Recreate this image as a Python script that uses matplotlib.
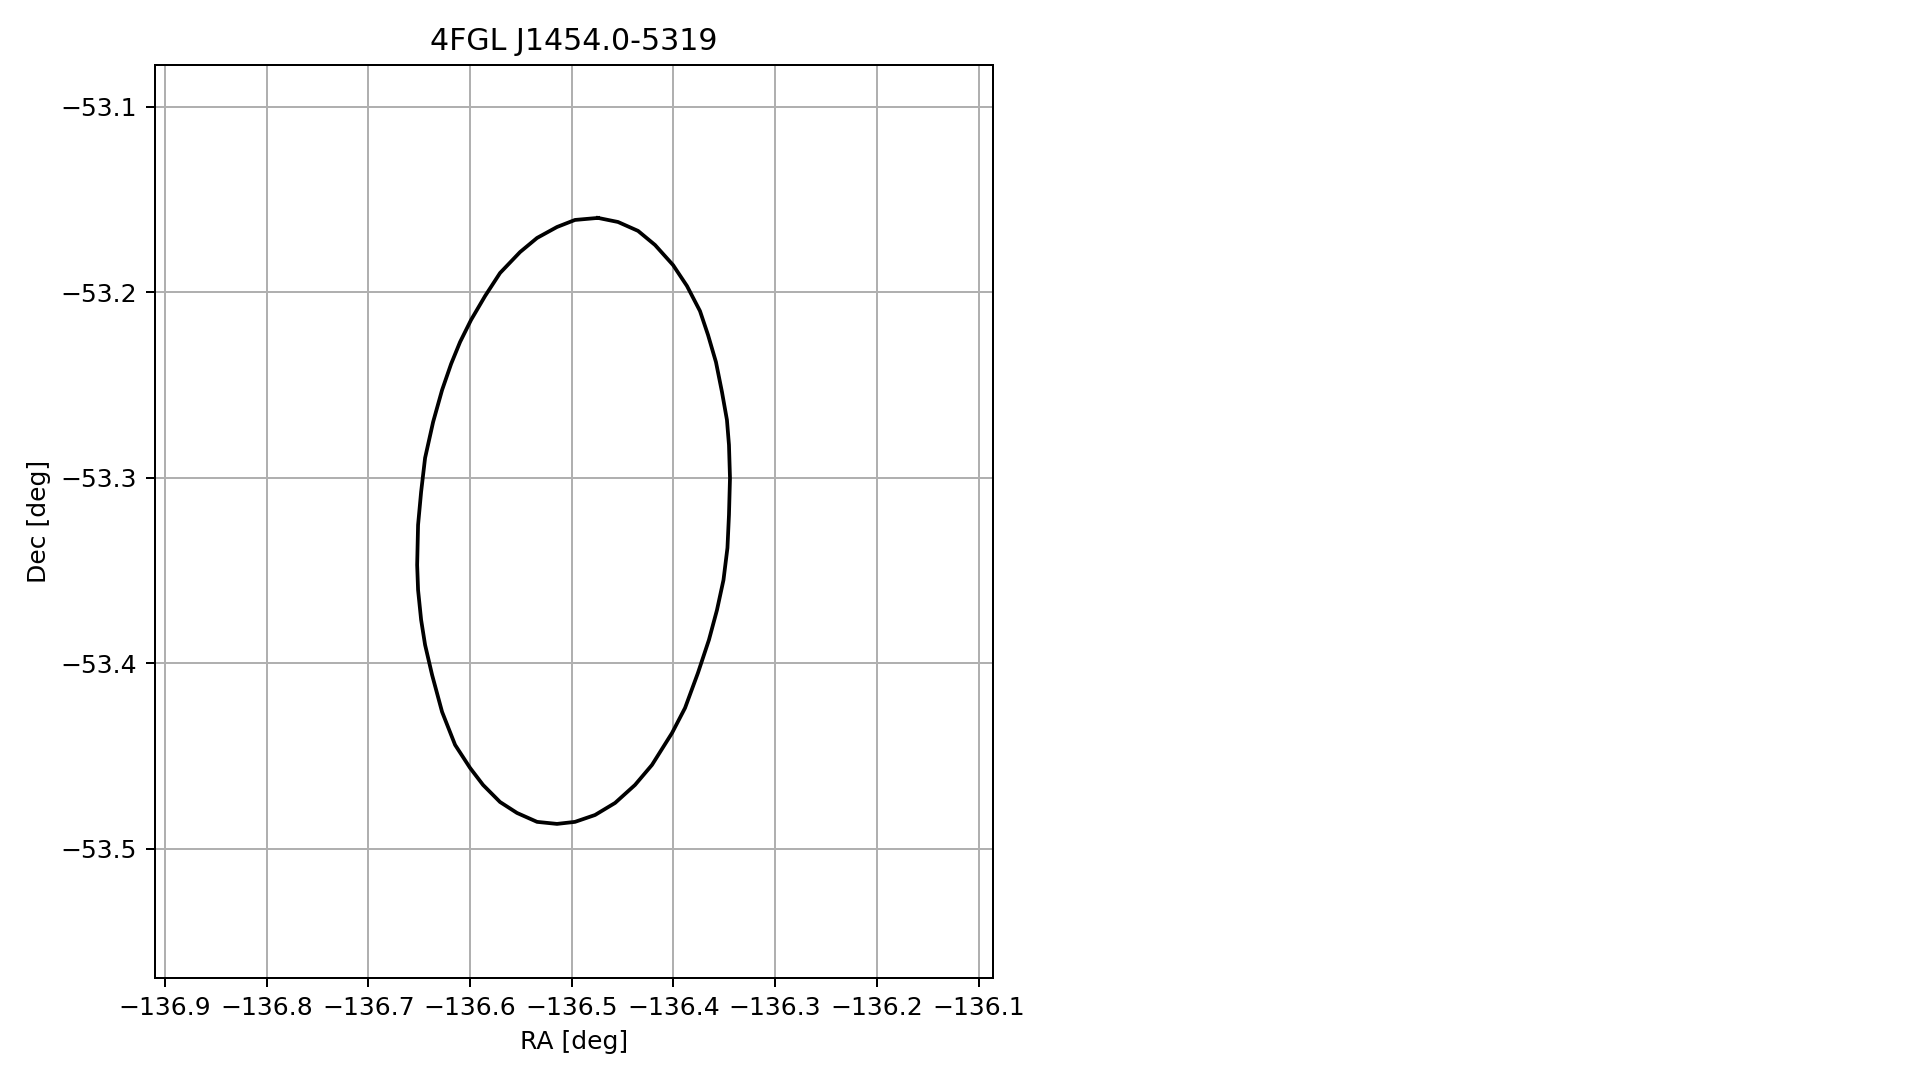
import numpy as np
import matplotlib
matplotlib.use('Agg')
import matplotlib.pyplot as plt

# 95% error ellipse outline of the source (vertices)
ra_pts = [
    -136.4742, -136.4545, -136.4348, -136.4181, -136.4004, -136.3867, -136.3739,
    -136.3660, -136.3582, -136.3523, -136.3474, -136.3454, -136.3444, -136.3454,
    -136.3469, -136.3508, -136.3572, -136.3651, -136.3759, -136.3886, -136.4014,
    -136.4211, -136.4378, -136.4574, -136.4771, -136.4968, -136.5145, -136.5341,
    -136.5538, -136.5705, -136.5872, -136.6000, -136.6147, -136.6275, -136.6373,
    -136.6442, -136.6481, -136.6511, -136.6520, -136.6511, -136.6481, -136.6442,
    -136.6363, -136.6275, -136.6186, -136.6098, -136.5990, -136.5852, -136.5705,
    -136.5508, -136.5341, -136.5145, -136.4968,
]
dec_pts = [
    -53.1598, -53.1620, -53.1668, -53.1744, -53.1852, -53.1965, -53.2100,
    -53.2229, -53.2375, -53.2536, -53.2687, -53.2822, -53.3000, -53.3199,
    -53.3377, -53.3550, -53.3712, -53.3873, -53.4051, -53.4240, -53.4375,
    -53.4547, -53.4655, -53.4752, -53.4817, -53.4854, -53.4865, -53.4854,
    -53.4806, -53.4747, -53.4655, -53.4563, -53.4439, -53.4261, -53.4062,
    -53.3900, -53.3765, -53.3604, -53.3469, -53.3253, -53.3075, -53.2892,
    -53.2698, -53.2526, -53.2385, -53.2267, -53.2148, -53.2019, -53.1895,
    -53.1782, -53.1706, -53.1647, -53.1609,
]

source_name = '4FGL J1454.0-5319'
ra_center, dec_center = -136.4979, -53.3234
radius = 0.2462

ra = np.array(ra_pts + ra_pts[:1])
dec = np.array(dec_pts + dec_pts[:1])

fig = plt.figure(figsize=(1919 / 180, 1080 / 180), dpi=180)
ax = fig.add_axes([0.0806, 0.0944, 0.4369, 0.8457])

ax.plot(ra, dec, color='black', linewidth=1.5)

half_ra = radius / np.cos(np.radians(dec_center))
ax.set_xlim(ra_center - half_ra, ra_center + half_ra)
ax.set_ylim(dec_center - radius, dec_center + radius)

ax.set_xlabel('RA [deg]')
ax.set_ylabel('Dec [deg]')
ax.set_title(source_name)
ax.grid(True)

fig.savefig('out.png', dpi=180)
plt.close(fig)
